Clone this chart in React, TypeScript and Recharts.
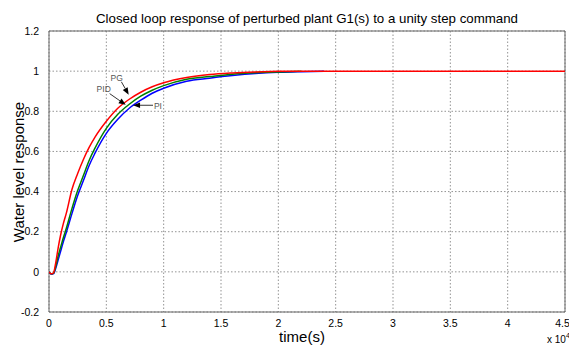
import React from 'react';
import { LineChart, Line, XAxis, YAxis, CartesianGrid, ReferenceArea, ReferenceLine, ReferenceDot } from 'recharts';

// time in seconds
const TIME = [0, 200, 400, 600, 800, 1000, 1250, 1500, 2000, 2500, 3000, 3500, 4000, 5000, 6000, 7000, 8000, 9000, 10000, 12000, 14000, 16000, 18000, 20000, 22000, 24000, 45000];
const PG = [0, -0.01, -0.004, 0.05, 0.12, 0.18, 0.24, 0.29, 0.41, 0.49, 0.56, 0.62, 0.67, 0.75, 0.815, 0.86, 0.895, 0.922, 0.942, 0.968, 0.983, 0.991, 0.996, 0.999, 1.0, 1.0, 1.0];
const PID = [0, -0.01, -0.006, 0.03, 0.08, 0.12, 0.17, 0.215, 0.315, 0.405, 0.48, 0.555, 0.615, 0.715, 0.785, 0.835, 0.875, 0.905, 0.928, 0.96, 0.973, 0.985, 0.992, 0.996, 0.999, null, null];
const PI = [0, -0.012, -0.009, 0.02, 0.06, 0.1, 0.15, 0.195, 0.29, 0.38, 0.455, 0.53, 0.59, 0.69, 0.76, 0.815, 0.855, 0.89, 0.915, 0.95, 0.965, 0.978, 0.988, 0.994, 0.997, 0.999, null];

const X_TICKS = [0, 5000, 10000, 15000, 20000, 25000, 30000, 35000, 40000, 45000];
const Y_TICKS = [-0.2, 0, 0.2, 0.4, 0.6, 0.8, 1, 1.2];

const TITLE = 'Closed loop response of perturbed plant G1(s) to a unity step command';
const Y_LABEL = 'Water level response';
const X_LABEL = 'time(s)';

// annotations (data coordinates)
const ANNOTATIONS = [
  { text: 'PG', tx: 5900, ty: 0.965, anchor: 'middle', from: { x: 6310, y: 0.947 }, to: { x: 6950, y: 0.883 } },
  { text: 'PID', tx: 4770, ty: 0.91, anchor: 'middle', from: { x: 5290, y: 0.888 }, to: { x: 6690, y: 0.832 } },
  { text: 'PI', tx: 9150, ty: 0.828, anchor: 'start', from: { x: 9070, y: 0.83 }, to: { x: 7330, y: 0.83 } },
];

const data = TIME.map((t, i) => ({ t, pg: PG[i], pid: PID[i], pi: PI[i] }));

const FONT = '"Liberation Sans", Arial, sans-serif';

const ArrowShape = (props: any) => {
  const { x1, y1, x2, y2 } = props;
  const ang = Math.atan2(y2 - y1, x2 - x1);
  const L = 7, W = 2.8;
  const bx = x2 - L * Math.cos(ang);
  const by = y2 - L * Math.sin(ang);
  const px = -Math.sin(ang) * W;
  const py = Math.cos(ang) * W;
  return (
    <g>
      <line x1={x1} y1={y1} x2={bx} y2={by} stroke="#000" strokeWidth={0.8} />
      <polygon points={`${x2},${y2} ${bx + px},${by + py} ${bx - px},${by - py}`} fill="#000" />
    </g>
  );
};

const makeTextShape = (text: string, anchor: string) => (props: any) => (
  <text x={props.cx} y={props.cy} dy="0.35em" textAnchor={anchor} fontSize={8.5} fill="#555" fontFamily={FONT}>
    {text}
  </text>
);

export default function App() {
  return (
    <div style={{ position: 'absolute', left: 0, top: 0, width: 569, height: 347, background: '#fff', fontFamily: FONT }}>
      <div style={{ position: 'absolute', left: 49, width: 516, top: 10, textAlign: 'center', fontSize: 13.3, lineHeight: '18px', color: '#000', whiteSpace: 'nowrap' }}>
        {TITLE}
      </div>
      <div style={{ position: 'absolute', left: 18, top: 172, transform: 'translate(-50%, -50%) rotate(-90deg)', fontSize: 15, whiteSpace: 'nowrap', color: '#000' }}>
        {Y_LABEL}
      </div>
      <div style={{ position: 'absolute', left: 302, top: 336, transform: 'translate(-50%, -50%)', fontSize: 15, lineHeight: '17px', whiteSpace: 'nowrap', color: '#000' }}>
        {X_LABEL}
      </div>
      <div style={{ position: 'absolute', left: 547, top: 334, fontSize: 10, whiteSpace: 'nowrap', color: '#000' }}>
        x 10<span style={{ fontSize: 7, position: 'relative', top: -5 }}>4</span>
      </div>
      <LineChart width={569} height={347} data={data} margin={{ top: 31, right: 4, bottom: 5, left: 0 }}>
        <CartesianGrid stroke="#777" strokeDasharray="1.5 2" strokeWidth={0.8} />
        <XAxis
          dataKey="t"
          type="number"
          domain={[0, 45000]}
          ticks={X_TICKS}
          height={30}
          tickFormatter={(v: number) => String(v / 10000)}
          tick={{ fontSize: 10.5, fill: '#000', fontFamily: FONT }}
          tickLine={false}
          axisLine={false}
          tickMargin={2}
          allowDataOverflow
        />
        <YAxis
          type="number"
          domain={[-0.2, 1.2]}
          ticks={Y_TICKS}
          width={49}
          tickFormatter={(v: number) => String(Math.round(v * 10) / 10)}
          tick={{ fontSize: 10.5, fill: '#000', fontFamily: FONT }}
          tickLine={false}
          axisLine={false}
          tickMargin={4}
          allowDataOverflow
        />
        <ReferenceArea x1={0} x2={45000} y1={-0.2} y2={1.2} fill="none" stroke="#666" strokeWidth={1} ifOverflow="visible" />
        <Line type="monotone" dataKey="pi" stroke="#0000ff" strokeWidth={1.5} dot={false} isAnimationActive={false} />
        <Line type="monotone" dataKey="pid" stroke="#008000" strokeWidth={1.5} dot={false} isAnimationActive={false} />
        <Line type="monotone" dataKey="pg" stroke="#ff0000" strokeWidth={1.5} dot={false} isAnimationActive={false} />
        {ANNOTATIONS.map((a) => (
          <ReferenceLine key={a.text + 'l'} segment={[a.from, a.to]} shape={ArrowShape} ifOverflow="visible" />
        ))}
        {ANNOTATIONS.map((a) => (
          <ReferenceDot key={a.text + 'd'} x={a.tx} y={a.ty} r={1} shape={makeTextShape(a.text, a.anchor)} ifOverflow="visible" />
        ))}
      </LineChart>
    </div>
  );
}
